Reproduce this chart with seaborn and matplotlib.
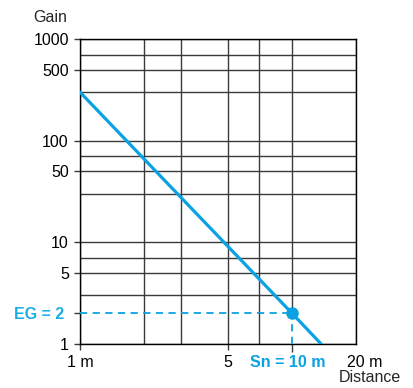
import matplotlib
matplotlib.use('Agg')
import matplotlib.pyplot as plt
import matplotlib.transforms as mtransforms
from matplotlib.ticker import NullFormatter
import seaborn as sns

# data
distance = [1, 10, 13.7]
gain = [300, 2, 1]
sn_distance = 10
eg_gain = 2

x_ticks = [1, 5, 10, 20]
x_labels = ['1 m', '5', 'Sn = 10 m', '20 m']
y_ticks = [1, 2, 5, 10, 50, 100, 500, 1000]
y_labels = ['1', 'EG = 2', '5', '10', '50', '100', '500', '1000']
x_grid = [1, 2, 3, 5, 7, 10, 20]
y_grid = [1, 3, 5, 7, 10, 30, 50, 70, 100, 300, 500, 700, 1000]

blue = '#0aa2e2'
blue_text = '#1aaee6'
fs = 11.5

sns.set_style('ticks')
plt.rcParams['font.family'] = ['Liberation Sans', 'DejaVu Sans']

fig, ax = plt.subplots(figsize=(4.14, 3.88), dpi=100)
fig.subplots_adjust(left=0.1932, right=0.8599, top=0.8995, bottom=0.1134)

ax.set_xscale('log')
ax.set_yscale('log')
ax.set_xlim(1, 20)
ax.set_ylim(1, 1000)

# grid on minor ticks only (keep minor locs that sit on major ticks)
ax.xaxis.remove_overlapping_locs = False
ax.yaxis.remove_overlapping_locs = False
ax.set_xticks(x_grid, minor=True)
ax.set_yticks(y_grid, minor=True)
ax.xaxis.set_minor_formatter(NullFormatter())
ax.yaxis.set_minor_formatter(NullFormatter())
ax.tick_params(which='minor', length=0)
ax.grid(which='minor', color='#3a3a3a', linewidth=1.0)
ax.grid(which='major', visible=False)
ax.set_axisbelow(True)

ax.set_xticks(x_ticks, x_labels)
ax.set_yticks(y_ticks, y_labels)
ax.tick_params(which='major', labelsize=fs, length=4, width=1, color='#3a3a3a',
               pad=4, colors='black')

# blank out the grid under the vertical guide, then dashed guides
ax.plot([sn_distance, sn_distance], [1, eg_gain], color='white', lw=2.5, zorder=2)
ax.plot([distance[0], sn_distance], [eg_gain, eg_gain], color=blue, lw=1.3,
        ls=(0, (4, 3)), zorder=3)
ax.plot([sn_distance, sn_distance], [1, eg_gain], color=blue, lw=1.3,
        ls=(0, (4, 3)), zorder=3)

sns.lineplot(x=distance, y=gain, ax=ax, color=blue, linewidth=2.3, zorder=4)
ax.plot([sn_distance], [eg_gain], 'o', color=blue, markersize=8, zorder=5)

for sp in ax.spines.values():
    sp.set_color('black')
    sp.set_linewidth(1.0)
    sp.set_zorder(2.5)

# style special tick labels
xt = ax.get_xticklabels()
yt = ax.get_yticklabels()
xt[2].set_color(blue)
xt[2].set_fontweight('bold')
yt[1].set_color(blue_text)
yt[1].set_fontweight('bold')

xmaj = ax.xaxis.get_major_ticks()
xmaj[2].tick1line.set_color(blue)
xmaj[2].tick1line.set_markersize(6)
xmaj[3].tick1line.set_visible(False)
ymaj = ax.yaxis.get_major_ticks()
ymaj[1].tick1line.set_color(blue)

def shift(label, dx):
    label.set_transform(label.get_transform() +
                        mtransforms.ScaledTranslation(dx / 100, 0, fig.dpi_scale_trans))

shift(xt[2], -4)
shift(xt[3], 9)
shift(yt[1], -5)

fig.text(0.121, 0.956, 'Gain', ha='center', va='center', fontsize=fs)
fig.text(0.894, 0.026, 'Distance', ha='center', va='center', fontsize=fs)

fig.savefig('out.png', dpi=100)
